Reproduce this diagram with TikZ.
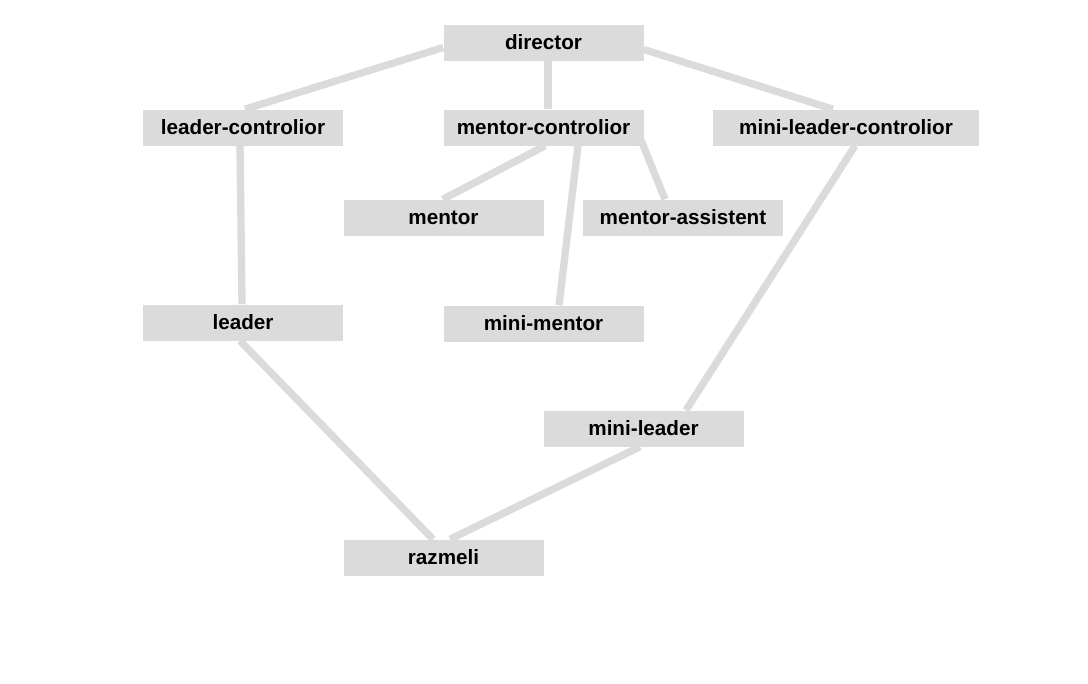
\documentclass[tikz,border=0pt]{standalone}
\usepackage{fontspec}
\setmainfont{Liberation Sans}
\usetikzlibrary{calc,backgrounds}
\definecolor{boxgray}{RGB}{219,219,219}
\tikzset{
	role/.style={fill=boxgray,minimum width=150pt,minimum height=27pt,inner sep=0pt,font=\fontsize{15.5}{18}\selectfont\bfseries},
	wide/.style={role,minimum width=199.5pt},
	link/.style={draw=boxgray,line width=5.5pt}
}
\begin{document}
\begin{tikzpicture}[x=0.75pt,y=-0.75pt]
		\useasboundingbox (0,0) rectangle (1088,683);
		\node[role] (director) at (543.5,42.5) {director};
		\node[role] (lc) at (243,127.5) {leader-controlior};
		\node[role] (mc) at (543.5,127.5) {mentor-controlior};
		\node[wide] (mlc) at (846,127.5) {mini-leader-controlior};
		\node[role] (mentor) at (443.5,217.5) {mentor};
		\node[role] (ma) at (683,217.5) {mentor-assistent};
		\node[role] (leader) at (243,322.5) {leader};
		\node[role] (mm) at (543.5,323.5) {mini-mentor};
		\node[role] (ml) at (643.5,428.5) {mini-leader};
		\node[role] (razmeli) at (443.5,557.5) {razmeli};
		\begin{scope}[on background layer]
		\draw[link] ($(director.west)+(0,5)$)--($(lc.north)+(2,0)$);
		\draw[link] ($(director.south)+(4.5,0)$)--($(mc.north)+(4.5,0)$);
		\draw[link] ($(director.east)+(0,7)$)--($(mlc.north)+(-13,0)$);
		\draw[link] ($(lc.south)+(-3,0)$)--($(leader.north)+(-1,0)$);
		\draw[link] ($(mc.south)+(1.5,0)$)--($(mentor.north)+(-0.5,0)$);
		\draw[link] ($(mc.south)+(34.5,0)$)--($(mm.north)+(15.5,0)$);
		\draw[link] ($(mc.east)+(-3,12)$)--($(ma.north)+(-18,0)$);
		\draw[link] ($(mlc.south)+(9,0)$)--($(ml.north)+(42.5,0)$);
		\draw[link] ($(leader.south)+(-3,0)$)--($(razmeli.north)+(-10.5,0)$);
		\draw[link] ($(ml.south)+(-3.5,0)$)--($(razmeli.north)+(6.5,0)$);
		\end{scope}
\end{tikzpicture}
\end{document}
